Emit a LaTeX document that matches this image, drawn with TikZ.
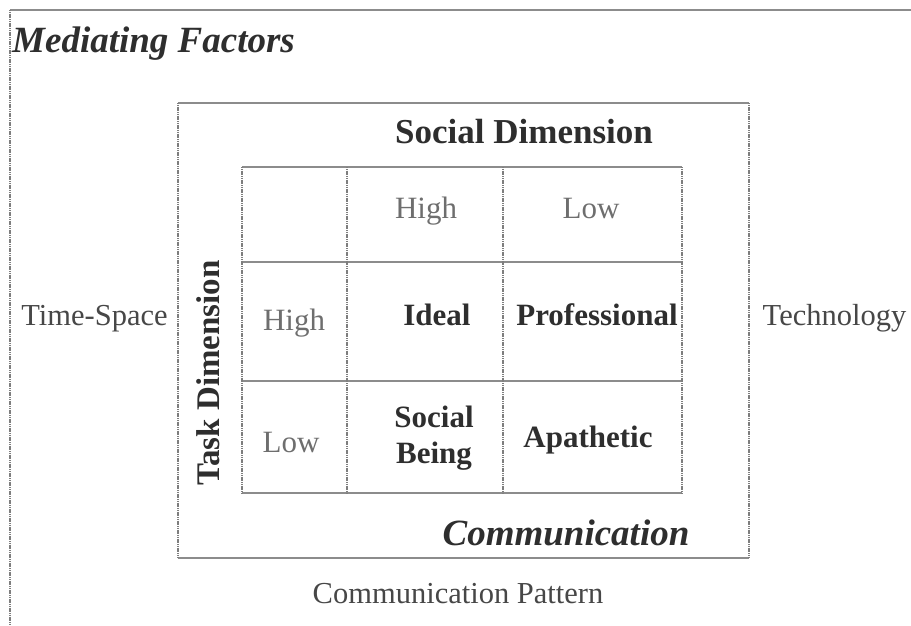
\documentclass[tikz,border=0pt]{standalone}
\usepackage{fontspec}
\setmainfont{Liberation Serif}
\definecolor{rulegray}{HTML}{8C8C8C}
\definecolor{inkdark}{HTML}{2E2E2E}
\definecolor{inkmid}{HTML}{474747}
\definecolor{inklight}{HTML}{6E6E6E}
\begin{document}
\begin{tikzpicture}[x=1pt,y=-1pt,
  hrule/.style={draw=rulegray, line width=1.6pt},
  vrule/.style={draw=rulegray!90!black, line width=2pt, dash pattern=on 1.2pt off 0.6pt},
  sidelabel/.style={inner sep=0pt, text=inkmid, font=\fontsize{30.5}{36}\selectfont},
  levellabel/.style={inner sep=0pt, text=inklight, font=\fontsize{31}{36}\selectfont},
  celllabel/.style={inner sep=0pt, text=inkdark, align=center, font=\bfseries\fontsize{31}{36}\selectfont},
  axislabel/.style={inner sep=0pt, text=inkdark, font=\bfseries\fontsize{35}{40}\selectfont},
  titlelabel/.style={inner sep=0pt, text=inkdark, font=\bfseries\itshape\fontsize{37}{42}\selectfont}
]
\useasboundingbox (0,0) rectangle (911,625);

% outer frame of the mediating factors
\draw[hrule] (10,10) -- (911,10);
\draw[vrule] (10,10) -- (10,625);

% communication box
\draw[hrule] (178,103) -- (749,103);
\draw[hrule] (178,558) -- (749,558);
\draw[vrule] (178,103) -- (178,558);
\draw[vrule] (749,103) -- (749,558);

% grid rows (solid) and columns (dotted)
\foreach \y in {167,262,381,493} \draw[hrule] (242,\y) -- (682,\y);
\foreach \x in {242,347,503,682} \draw[vrule] (\x,167) -- (\x,493);

% titles
\node[titlelabel, anchor=base west] (mediating) at (12,52) {Mediating Factors};
\node[axislabel, anchor=base] (social) at (524,143) {Social Dimension};
\node[axislabel, rotate=90, anchor=center, font=\bfseries\fontsize{33}{38}\selectfont] (task) at (208,373) {Task Dimension};
\node[titlelabel, anchor=base] (comm) at (566,545) {Communication};

% level headings
\node[levellabel, anchor=base] (shigh) at (426,218) {High};
\node[levellabel, anchor=base] (slow) at (591,218) {Low};
\node[levellabel, anchor=base] (thigh) at (294,330) {High};
\node[levellabel, anchor=base] (tlow) at (291,452) {Low};

% cells
\node[celllabel, anchor=base] (ideal) at (437,325) {Ideal};
\node[celllabel, anchor=base] (prof) at (597,325) {Professional};
\node[celllabel, anchor=center] (being) at (434,438) {Social\\Being};
\node[celllabel, anchor=base] (apath) at (588,447) {Apathetic};

% mediating factors around the box
\node[sidelabel, anchor=base] (timespace) at (94.5,325) {Time-Space};
\node[sidelabel, anchor=base] (tech) at (834.5,325) {Technology};
\node[sidelabel, anchor=base] (pattern) at (458,603) {Communication Pattern};
\end{tikzpicture}
\end{document}
